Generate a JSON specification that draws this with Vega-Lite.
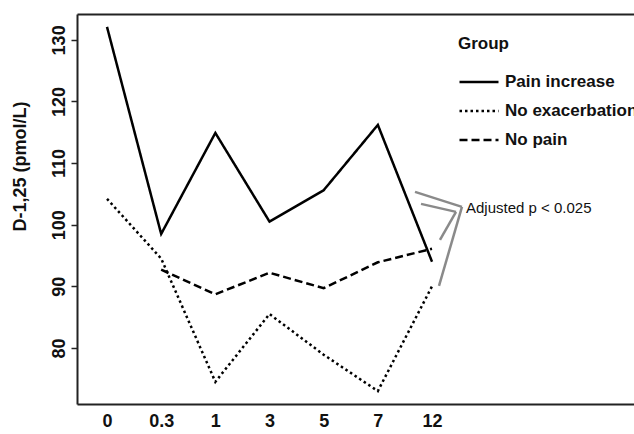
{
  "$schema": "https://vega.github.io/schema/vega-lite/v6.json",
  "width": 557,
  "height": 390,
  "autosize": {"type": "none"},
  "padding": {"left": 77, "top": 14, "right": 0, "bottom": 30},
  "background": "white",
  "datasets": {
    "lines": [
      {"group": "Pain increase", "idx": 0, "time": "0", "value": 132.1},
      {"group": "Pain increase", "idx": 1, "time": "0.3", "value": 98.5},
      {"group": "Pain increase", "idx": 2, "time": "1", "value": 114.9},
      {"group": "Pain increase", "idx": 3, "time": "3", "value": 100.5},
      {"group": "Pain increase", "idx": 4, "time": "5", "value": 105.6},
      {"group": "Pain increase", "idx": 5, "time": "7", "value": 116.2},
      {"group": "Pain increase", "idx": 6, "time": "12", "value": 94.0},
      {"group": "No exacerbation", "idx": 0, "time": "0", "value": 104.2},
      {"group": "No exacerbation", "idx": 1, "time": "0.3", "value": 94.5},
      {"group": "No exacerbation", "idx": 2, "time": "1", "value": 74.5},
      {"group": "No exacerbation", "idx": 3, "time": "3", "value": 85.5},
      {"group": "No exacerbation", "idx": 4, "time": "5", "value": 78.9},
      {"group": "No exacerbation", "idx": 5, "time": "7", "value": 73.0},
      {"group": "No exacerbation", "idx": 6, "time": "12", "value": 90.0},
      {"group": "No pain", "idx": 1, "time": "0.3", "value": 92.7},
      {"group": "No pain", "idx": 2, "time": "1", "value": 88.7},
      {"group": "No pain", "idx": 3, "time": "3", "value": 92.2},
      {"group": "No pain", "idx": 4, "time": "5", "value": 89.7},
      {"group": "No pain", "idx": 5, "time": "7", "value": 93.9},
      {"group": "No pain", "idx": 6, "time": "12", "value": 96.1}
    ],
    "brackets": [
      {"idx": 5.686, "value": 105.32, "idx2": 6.553, "value2": 102.89},
      {"idx": 6.553, "value": 102.89, "idx2": 6.129, "value2": 90.06},
      {"idx": 5.797, "value": 103.38, "idx2": 6.443, "value2": 102.08},
      {"idx": 6.443, "value": 102.08, "idx2": 6.147, "value2": 97.53}
    ],
    "note": [
      {"idx": 6.627, "value": 102.73, "label": "Adjusted p < 0.025"}
    ]
  },
  "layer": [
    {
      "data": {"name": "lines"},
      "mark": {"type": "line", "color": "black", "strokeWidth": 2.5},
      "encoding": {
        "x": {
          "field": "idx",
          "type": "quantitative",
          "scale": {"domain": [-0.554, 9.729], "nice": false, "zero": false},
          "axis": {
            "orient": "bottom",
            "values": [0, 1, 2, 3, 4, 5, 6],
            "labelExpr": "['0','0.3','1','3','5','7','12'][datum.value]",
            "ticks": false,
            "labelPadding": 8,
            "title": null
          }
        },
        "y": {
          "field": "value",
          "type": "quantitative",
          "scale": {"domain": [70.9, 134.2], "nice": false, "zero": false},
          "axis": {
            "values": [80, 90, 100, 110, 120, 130],
            "labelAngle": 270,
            "labelPadding": 3,
            "tickSize": 6,
            "title": "D-1,25 (pmol/L)",
            "titleFontSize": 18,
            "titleFontWeight": "bold",
            "titleX": -57,
            "titleY": 152,
            "titleAngle": 270,
            "titleBaseline": "middle",
            "titleAlign": "center"
          }
        },
        "strokeDash": {
          "field": "group",
          "type": "nominal",
          "scale": {
            "domain": ["Pain increase", "No exacerbation", "No pain"],
            "range": [[1, 0], [2.5, 3], [8, 4]]
          },
          "legend": {
            "title": "Group",
            "orient": "none",
            "legendX": 381,
            "legendY": 22,
            "padding": 0,
            "symbolType": "stroke",
            "symbolSize": 1521,
            "symbolStrokeWidth": 2.5,
            "symbolStrokeColor": "black",
            "labelFontSize": 17,
            "labelFontWeight": "bold",
            "labelColor": "#111",
            "labelOffset": 5,
            "titleFontSize": 17,
            "titleFontWeight": "bold",
            "titleColor": "#111",
            "titlePadding": 8,
            "rowPadding": -4
          }
        }
      }
    },
    {
      "data": {"name": "brackets"},
      "mark": {"type": "rule", "color": "#8a8a8a", "strokeWidth": 2.5},
      "encoding": {
        "x": {
          "field": "idx",
          "type": "quantitative",
          "axis": {"orient": "top", "labels": false, "ticks": false, "title": null, "domain": true}
        },
        "x2": {"field": "idx2"},
        "y": {"field": "value", "type": "quantitative"},
        "y2": {"field": "value2"}
      }
    },
    {
      "data": {"name": "note"},
      "mark": {"type": "text", "align": "left", "baseline": "middle", "font": "Liberation Sans, Arial, sans-serif", "fontSize": 15, "color": "#111"},
      "encoding": {
        "x": {"field": "idx", "type": "quantitative", "axis": null},
        "y": {"field": "value", "type": "quantitative"},
        "text": {"field": "label"}
      }
    }
  ],
  "resolve": {"axis": {"x": "independent"}},
  "config": {
    "view": {"stroke": null},
    "font": "Liberation Sans, Arial, sans-serif",
    "axis": {
      "grid": false,
      "domainColor": "#222",
      "domainWidth": 2,
      "tickColor": "#222",
      "tickWidth": 1.5,
      "labelFont": "Liberation Sans, Arial, sans-serif",
      "labelFontSize": 18,
      "labelFontWeight": "bold",
      "labelColor": "#111",
      "titleFont": "Liberation Sans, Arial, sans-serif",
      "titleColor": "#111"
    },
    "legend": {
      "labelFont": "Liberation Sans, Arial, sans-serif",
      "titleFont": "Liberation Sans, Arial, sans-serif"
    }
  }
}
